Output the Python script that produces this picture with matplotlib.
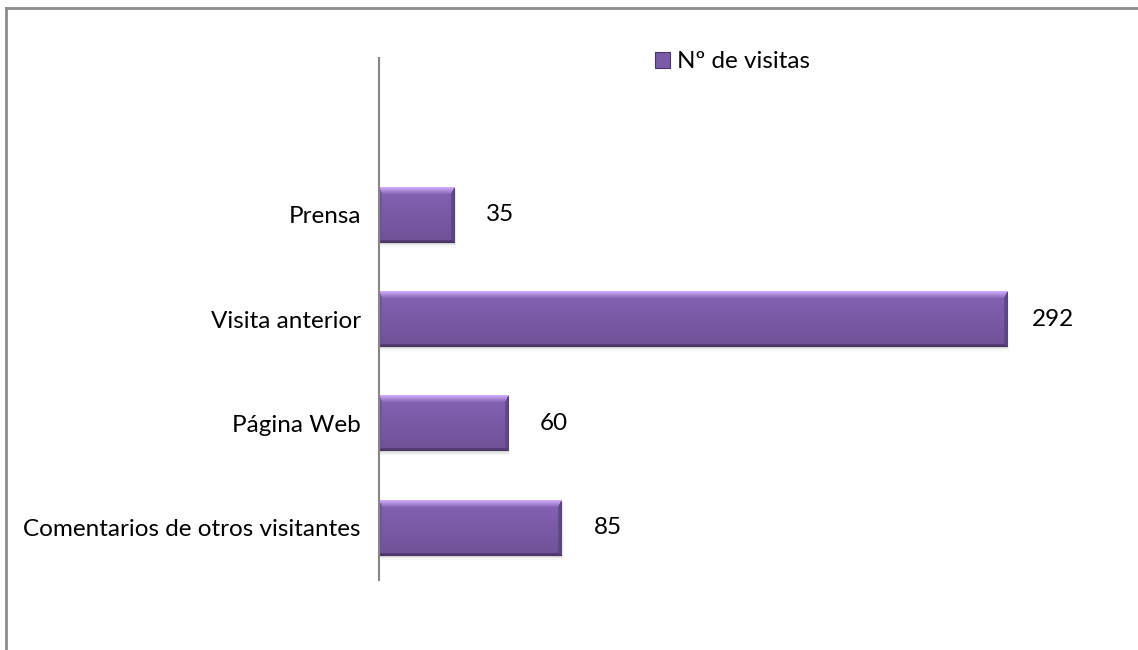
#!/usr/bin/env python3
import matplotlib

matplotlib.use("Agg")
import matplotlib.pyplot as plt
import numpy as np
from matplotlib.colors import to_rgb
from matplotlib.lines import Line2D
from matplotlib.patches import Patch

plt.rcParams["font.family"] = ["Lato", "DejaVu Sans"]

# bottom to top, the top slot is empty in the source chart
categories = ["Comentarios de otros visitantes", "Página Web", "Visita anterior", "Prensa", ""]
visits = [85, 60, 292, 35, 0]
series_name = "Nº de visitas"

BODY = "#7b5ba8"
TOP = "#cfa9f8"
BOTTOM = "#4a3566"
RIGHT = "#5a4382"
LEFT = "#6d5196"
W, H, DPI = 1138, 650, 100
FS = 17.5


def bevel_image(w_px, h_px):
    """RGB array that imitates the Office bevel on a bar."""
    w_px, h_px = max(int(w_px), 2), max(int(h_px), 2)
    yy, xx = np.mgrid[0:h_px, 0:w_px].astype(float)
    widths = np.array([7.0, 3.0, 3.0, 4.0])  # top, bottom, left, right
    dist = np.stack([yy, h_px - 1 - yy, xx, w_px - 1 - xx])
    rel = dist / widths[:, None, None]
    nearest = rel.argmin(axis=0)
    minrel = rel.min(axis=0)

    body = np.array(to_rgb(BODY))
    shade = np.linspace(1.08, 0.90, h_px)[:, None, None]
    img = np.clip(body[None, None, :] * shade, 0, 1) * np.ones((h_px, w_px, 3))
    for i, c in enumerate([TOP, BOTTOM, LEFT, RIGHT]):
        m = (nearest == i) & (minrel < 1)
        t = minrel[m][:, None]
        edge = np.array(to_rgb(c))
        if i == 0:
            # top highlight fades into the body
            img[m] = edge * (1 - t) + img[m] * t
        else:
            img[m] = edge * (1 - 0.4 * t) + img[m] * 0.4 * t
    return img


fig = plt.figure(figsize=(W / DPI, H / DPI), dpi=DPI)
left, right = 379 / W, (379 + 300 * 2.151) / W
bottom, top = 1 - 580 / H, 1 - 58 / H
ax = fig.add_axes([left, bottom, right - left, top - bottom])

ypos = np.arange(len(categories))
bars = ax.barh(ypos, visits, height=0.535, color=BODY, zorder=3)
ax.set_xlim(0, 300)
ax.set_ylim(-0.5, len(categories) - 0.5)

ext = ax.get_window_extent()
ux = 300 / ext.width
uy = len(categories) / ext.height

# soft shadow + bevel fill for each bar
for rect, v in zip(bars, visits):
    if v <= 0:
        continue
    x0, y0 = rect.get_x(), rect.get_y()
    w, h = rect.get_width(), rect.get_height()
    for k, a in [(1, 0.16), (2.5, 0.10), (4, 0.05)]:
        ax.add_patch(plt.Rectangle((x0 + k * ux * 0.5, y0 - k * uy), w, h,
                                   color="#666666", alpha=a, lw=0, zorder=2))
    im = ax.imshow(bevel_image(w / ux, h / uy), extent=(x0, x0 + w, y0, y0 + h),
                   origin="upper", aspect="auto", zorder=4, interpolation="bilinear")
    im.set_clip_path(rect)
    ax.annotate(str(v), (x0 + w, y0 + h / 2), xytext=(33, 0), textcoords="offset points",
                ha="center", va="center", fontsize=FS, color="black")

ax.set_aspect("auto")
ax.set_yticks(ypos)
ax.set_yticklabels(categories, fontsize=FS)
ax.tick_params(axis="y", length=0, pad=13)
ax.set_xticks([])
for s in ["top", "right", "bottom"]:
    ax.spines[s].set_visible(False)
ax.spines["left"].set_color("#868686")
ax.spines["left"].set_linewidth(1.5)
ax.spines["left"].set_zorder(5)

handle = Patch(facecolor=BODY, edgecolor=BOTTOM, linewidth=0.8)
fig.legend([handle], [series_name], loc="center left", bbox_to_anchor=(655 / W, 1 - 62 / H),
           frameon=False, fontsize=FS, handlelength=0.6, handleheight=0.6,
           handletextpad=0.3, borderaxespad=0, borderpad=0)

# the chart frame is cropped: only left and top edges show
fig.add_artist(Line2D([6 / W, 6 / W], [0, 1 - 8 / H], transform=fig.transFigure,
                      color="#8c8c8c", lw=2))
fig.add_artist(Line2D([6 / W, 1], [1 - 8 / H, 1 - 8 / H], transform=fig.transFigure,
                      color="#8c8c8c", lw=2))

fig.savefig("out.png", dpi=DPI)
plt.close(fig)
